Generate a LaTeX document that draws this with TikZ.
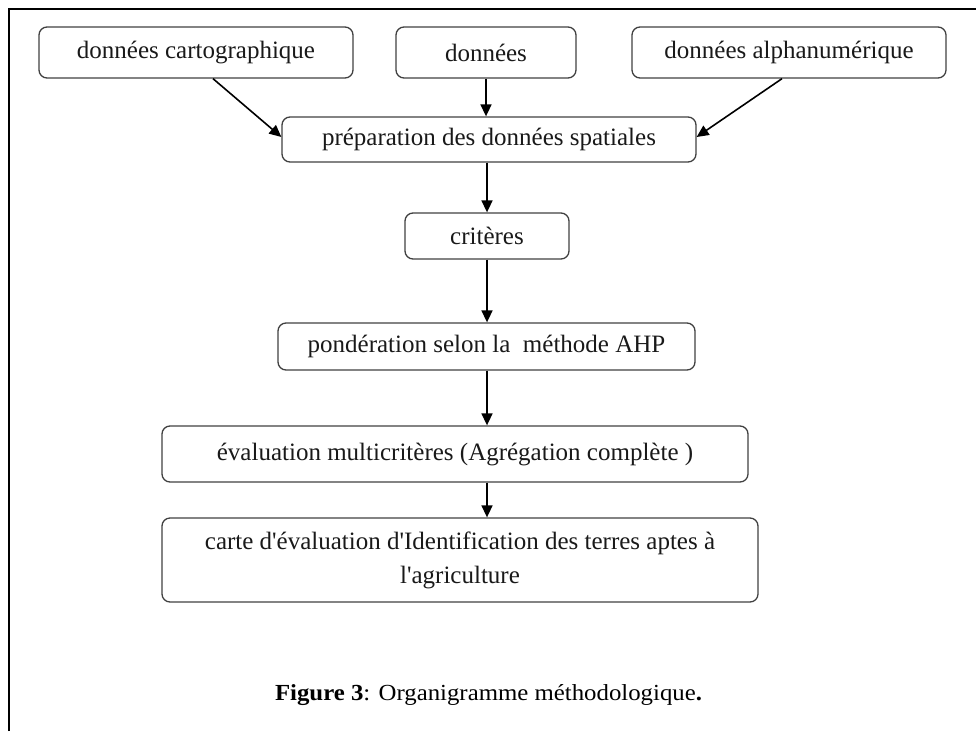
\documentclass[tikz,border=0pt]{standalone}
\usepackage{fontspec}
\setmainfont{Liberation Serif}
\usetikzlibrary{arrows.meta}
\tikzset{
  flowbox/.style={draw=black!75, line width=1.3pt, rounded corners=8pt, inner sep=0pt,
    align=center, text=black!90, font=\fontsize{25}{34}\selectfont},
  flowarrow/.style={draw=black, line width=1.6pt, -{Triangle[length=12pt,width=11pt]}},
  framestyle/.style={draw=black, line width=1.6pt}
}
\begin{document}
\begin{tikzpicture}[x=1pt,y=-1pt]
\useasboundingbox (0,0) rectangle (976,731);
\coordinate (fbl) at (9,731);
\coordinate (ftl) at (9,9);
\coordinate (ftr) at (976,9);
\draw[framestyle] (fbl) -- (ftl) -- (ftr);

\node[flowbox, minimum width=314pt, minimum height=51pt] (b1) at (196,52.5) {données cartographique};
\node[flowbox, minimum width=180pt, minimum height=51pt] (b2) at (486,52.5) {données};
\node[flowbox, minimum width=314pt, minimum height=51pt] (b3) at (789,52.5) {données alphanumérique};
\node[flowbox, minimum width=414pt, minimum height=45pt] (prep) at (489,139.5) {\raisebox{-4pt}{préparation des données spatiales}};
\node[flowbox, minimum width=164pt, minimum height=46pt] (crit) at (487,236) {critères};
\node[flowbox, minimum width=417pt, minimum height=47pt] (pond) at (486.5,346.5) {pondération selon la\ \ méthode AHP};
\node[flowbox, minimum width=586pt, minimum height=56pt] (eval) at (455,454) {évaluation multicritères (Agrégation complète )};
\node[flowbox, minimum width=596pt, minimum height=84pt] (carte) at (460,560) {carte d\textquotesingle évaluation d\textquotesingle Identification des terres aptes à\\l\textquotesingle agriculture};

\node[inner sep=0pt, anchor=base, text=black] (cap) at (488.5,700)
  {\resizebox{427pt}{\height}{\fontsize{23}{26}\selectfont\textbf{Figure 3}: Organigramme méthodologique\textbf{.}}};

\draw[flowarrow] (b1.south -| 213,0) -- (prep.west |- 0,137);
\draw[flowarrow] (b2.south -| 486,0) -- (prep.north -| 486,0);
\draw[flowarrow] (b3.south -| 782,0) -- (prep.east |- 0,137);
\draw[flowarrow] (prep.south -| 487,0) -- (crit.north -| 487,0);
\draw[flowarrow] (crit.south -| 487,0) -- (pond.north -| 487,0);
\draw[flowarrow] (pond.south -| 487,0) -- (eval.north -| 487,0);
\draw[flowarrow] (eval.south -| 487,0) -- (carte.north -| 487,0);
\end{tikzpicture}
\end{document}
